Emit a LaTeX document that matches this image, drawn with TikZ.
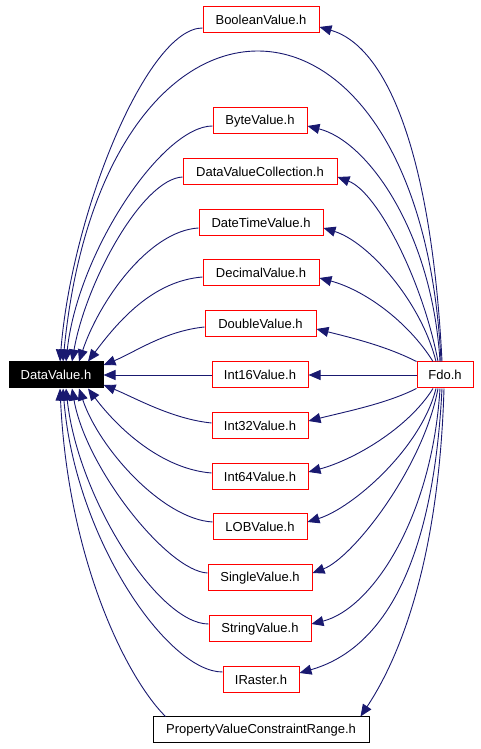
\documentclass[tikz,border=0pt]{standalone}
\usepackage{fontspec}
\setmainfont{Liberation Sans}
\usetikzlibrary{arrows.meta}
\definecolor{EdgeNavy}{RGB}{25,25,112}
\definecolor{BoxRed}{RGB}{255,0,0}

\begin{document}
\begin{tikzpicture}[x=1pt, y=1pt, font=\fontsize{13}{15}\selectfont,
	fichero/.style={rectangle, draw=BoxRed, line width=1pt, fill=white,
		minimum height=26pt, inner sep=0pt},
	flecha/.style={-{Triangle[length=12pt, width=10pt]}, EdgeNavy, line width=0.9pt}]
	\useasboundingbox (0,0) rectangle (480,749);
	\node[fichero, fill=black, draw=black, text=white, minimum width=94pt] (datavalue) at (56,374) {DataValue.h};
	\node[fichero, minimum width=56pt] (fdo) at (445,374) {Fdo.h};
	\node[fichero, minimum width=116pt] (boolean) at (261,729) {BooleanValue.h};
	\node[fichero, minimum width=94pt] (byte) at (260,628) {ByteValue.h};
	\node[fichero, minimum width=154pt] (collection) at (260,577) {DataValueCollection.h};
	\node[fichero, minimum width=124pt] (datetime) at (261,526) {DateTimeValue.h};
	\node[fichero, minimum width=116pt] (decimal) at (261,476) {DecimalValue.h};
	\node[fichero, minimum width=111pt] (double) at (260.5,425) {DoubleValue.h};
	\node[fichero, minimum width=96pt] (int16) at (260,374) {Int16Value.h};
	\node[fichero, minimum width=96pt] (int32) at (260,323) {Int32Value.h};
	\node[fichero, minimum width=96pt] (int64) at (260,272) {Int64Value.h};
	\node[fichero, minimum width=94pt] (lob) at (260,222) {LOBValue.h};
	\node[fichero, minimum width=104pt] (single) at (260,171) {SingleValue.h};
	\node[fichero, minimum width=102pt] (string) at (260,120) {StringValue.h};
	\node[fichero, minimum width=76pt] (iraster) at (261,69) {IRaster.h};
	\node[fichero, draw=black, minimum width=216pt] (range) at (261,19) {PropertyValueConstraintRange.h};
	% hacia DataValue.h
	\draw[flecha] ([yshift=-8pt]boolean.west) .. controls +(-55,0) and +(12,150) .. ([xshift=4pt]datavalue.north);
	\draw[flecha] ([yshift=-5pt]byte.west) .. controls +(-50,0) and +(12,110) .. ([xshift=10pt]datavalue.north);
	\draw[flecha] ([yshift=-5pt]collection.west) .. controls +(-40,-2) and +(14,80) .. ([xshift=16pt]datavalue.north);
	\draw[flecha] ([yshift=-5pt]datetime.west) .. controls +(-50,-3) and +(20,60) .. ([xshift=23pt]datavalue.north);
	\draw[flecha] ([yshift=-4pt]decimal.west) .. controls +(-50,-4) and +(30,40) .. ([xshift=32pt]datavalue.north);
	\draw[flecha] ([yshift=-3pt]double.west) .. controls +(-40,-4) and +(30,12) .. ([yshift=10pt]datavalue.east);
	\draw[flecha] (int16.west) -- (datavalue.east);
	\draw[flecha] ([yshift=3pt]int32.west) .. controls +(-40,4) and +(30,-12) .. ([yshift=-10pt]datavalue.east);
	\draw[flecha] ([yshift=4pt]int64.west) .. controls +(-50,4) and +(30,-40) .. ([xshift=32pt]datavalue.south);
	\draw[flecha] ([yshift=5pt]lob.west) .. controls +(-50,3) and +(20,-60) .. ([xshift=23pt]datavalue.south);
	\draw[flecha] ([yshift=5pt]single.west) .. controls +(-40,2) and +(14,-80) .. ([xshift=16pt]datavalue.south);
	\draw[flecha] ([yshift=5pt]string.west) .. controls +(-50,0) and +(12,-110) .. ([xshift=10pt]datavalue.south);
	\draw[flecha] ([yshift=8pt]iraster.west) .. controls +(-55,0) and +(12,-150) .. ([xshift=7pt]datavalue.south);
	\draw[flecha] ([xshift=13pt]range.north west) .. controls +(-40,40) and +(8,-170) .. ([xshift=4pt]datavalue.south);
	% desde Fdo.h
	\draw[flecha] ([xshift=-4pt]fdo.north) .. controls +(-20,412) and +(40,412) .. ([xshift=7pt]datavalue.north);
	\draw[flecha] ([xshift=-3pt]fdo.north) .. controls +(-10,200) and +(70,-20) .. ([yshift=-7pt]boolean.east);
	\draw[flecha] ([xshift=-5pt]fdo.north) .. controls +(-8,130) and +(60,-15) .. ([yshift=-5pt]byte.east);
	\draw[flecha] ([xshift=-7pt]fdo.north) .. controls +(-15,80) and +(40,-15) .. ([yshift=-5pt]collection.east);
	\draw[flecha] ([xshift=-9pt]fdo.north) .. controls +(-15,60) and +(45,-14) .. ([yshift=-5pt]datetime.east);
	\draw[flecha] ([xshift=-12pt]fdo.north) .. controls +(-25,40) and +(45,-12) .. ([yshift=-5pt]decimal.east);
	\draw[flecha] (fdo.north west) .. controls +(-30,15) and +(40,-10) .. ([yshift=-5pt]double.east);
	\draw[flecha] (fdo.west) -- (int16.east);
	\draw[flecha] (fdo.south west) .. controls +(-30,-15) and +(40,10) .. ([yshift=5pt]int32.east);
	\draw[flecha] ([xshift=-12pt]fdo.south) .. controls +(-25,-40) and +(45,12) .. ([yshift=5pt]int64.east);
	\draw[flecha] ([xshift=-9pt]fdo.south) .. controls +(-15,-60) and +(45,14) .. ([yshift=5pt]lob.east);
	\draw[flecha] ([xshift=-7pt]fdo.south) .. controls +(-15,-80) and +(40,15) .. ([yshift=5pt]single.east);
	\draw[flecha] ([xshift=-5pt]fdo.south) .. controls +(-8,-130) and +(60,15) .. ([yshift=5pt]string.east);
	\draw[flecha] ([xshift=-3pt]fdo.south) .. controls +(-10,-200) and +(70,20) .. ([yshift=7pt]iraster.east);
	\draw[flecha] ([xshift=-1pt]fdo.south) .. controls +(-5,-170) and +(40,60) .. ([xshift=-9pt]range.north east);
\end{tikzpicture}
\end{document}
